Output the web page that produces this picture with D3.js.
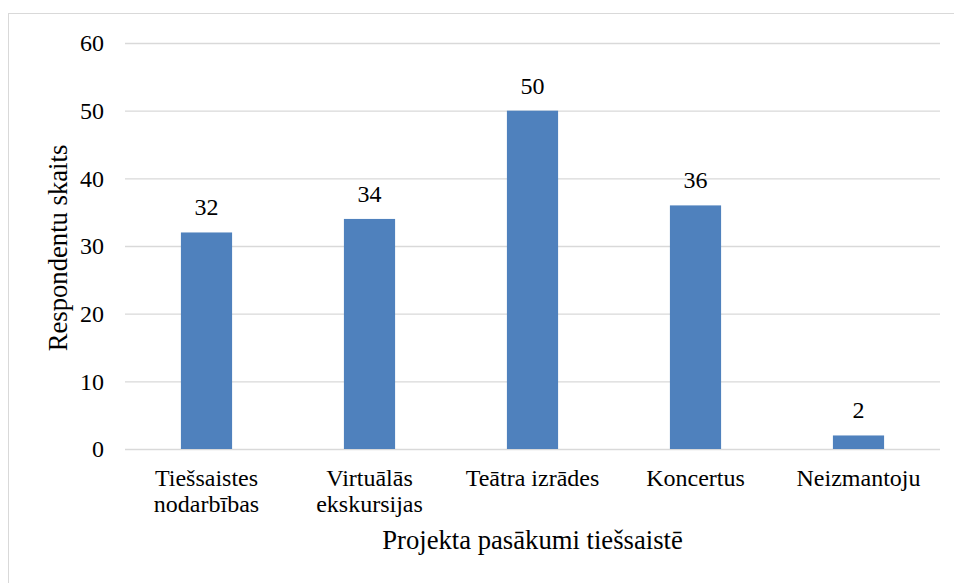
<!DOCTYPE html>
<html>
<head>
<meta charset="utf-8">
<script src="https://cdn.jsdelivr.net/npm/d3@7"></script>
<style>
  body { margin: 0; background: #fff; }
</style>
</head>
<body>
<div id="chart"></div>
<script>
var categories = [["Tiešsaistes", "nodarbības"], ["Virtuālās", "ekskursijas"], ["Teātra izrādes"], ["Koncertus"], ["Neizmantoju"]];
var values = [32, 34, 50, 36, 2];
var yTicks = [0, 10, 20, 30, 40, 50, 60];
var xTitle = "Projekta pasākumi tiešsaistē";
var yTitle = "Respondentu skaits";

var FONT = "Liberation Serif";

var svgWidth = 954;
var svgHeight = 583;
var margin = { top: 43, right: 14, bottom: 134, left: 125 };
var chartWidth = svgWidth - margin.left - margin.right;
var chartHeight = svgHeight - margin.top - margin.bottom;

var svg = d3.select("#chart")
  .append("svg")
  .attr("width", svgWidth)
  .attr("height", svgHeight)
  .attr("font-family", FONT);

// outer frame (only top and left edge visible)
svg.append("rect")
  .attr("x", 8.5).attr("y", 13.5)
  .attr("width", 1000).attr("height", 1000)
  .attr("fill", "none")
  .attr("stroke", "#d9d9d9");

var chartGroup = svg.append("g")
  .attr("transform", `translate(${margin.left}, ${margin.top})`);

var keys = categories.map(c => c.join(" "));

var xBandScale = d3.scaleBand()
  .domain(keys)
  .range([0, chartWidth])
  .paddingInner(0.686)
  .paddingOuter(0.343);

var yLinearScale = d3.scaleLinear()
  .domain([0, 60])
  .range([chartHeight, 0]);

// gridlines + y labels
var yAxis = d3.axisLeft(yLinearScale)
  .tickValues(yTicks)
  .tickSize(-chartWidth)
  .tickPadding(21);

var yg = chartGroup.append("g").call(yAxis)
  .attr("font-family", FONT)
  .attr("font-size", 24);
yg.select(".domain").remove();
yg.selectAll(".tick line").attr("stroke", "#d9d9d9").attr("stroke-width", 1.3);
yg.selectAll(".tick text").attr("fill", "#000");

// bars
chartGroup.selectAll(".bar")
  .data(values)
  .enter()
  .append("rect")
  .attr("class", "bar")
  .attr("x", (d, i) => xBandScale(keys[i]))
  .attr("y", d => yLinearScale(d))
  .attr("width", xBandScale.bandwidth())
  .attr("height", d => chartHeight - yLinearScale(d))
  .attr("fill", "#4f81bd");

// value labels
chartGroup.selectAll(".val")
  .data(values)
  .enter()
  .append("text")
  .attr("class", "val")
  .attr("x", (d, i) => xBandScale(keys[i]) + xBandScale.bandwidth() / 2)
  .attr("y", d => yLinearScale(d) - 17)
  .attr("text-anchor", "middle")
  .attr("font-family", FONT)
  .attr("font-size", 24)
  .text(d => d);

// category labels
var catG = chartGroup.selectAll(".cat")
  .data(categories)
  .enter()
  .append("text")
  .attr("class", "cat")
  .attr("text-anchor", "middle")
  .attr("font-family", FONT)
  .attr("font-size", 24)
  .attr("transform", (d, i) => `translate(${xBandScale(keys[i]) + xBandScale.bandwidth() / 2}, ${chartHeight + 37})`);

catG.selectAll("tspan")
  .data(d => d)
  .enter()
  .append("tspan")
  .attr("x", 0)
  .attr("dy", (d, i) => i === 0 ? 0 : 26)
  .text(d => d);

// axis titles
chartGroup.append("text")
  .attr("x", chartWidth / 2)
  .attr("y", chartHeight + 100)
  .attr("text-anchor", "middle")
  .attr("font-family", FONT)
  .attr("font-size", 26.67)
  .text(xTitle);

chartGroup.append("text")
  .attr("transform", `translate(${-58}, ${chartHeight / 2 + 2}) rotate(-90)`)
  .attr("text-anchor", "middle")
  .attr("font-family", FONT)
  .attr("font-size", 26.67)
  .text(yTitle);
</script>
</body>
</html>
